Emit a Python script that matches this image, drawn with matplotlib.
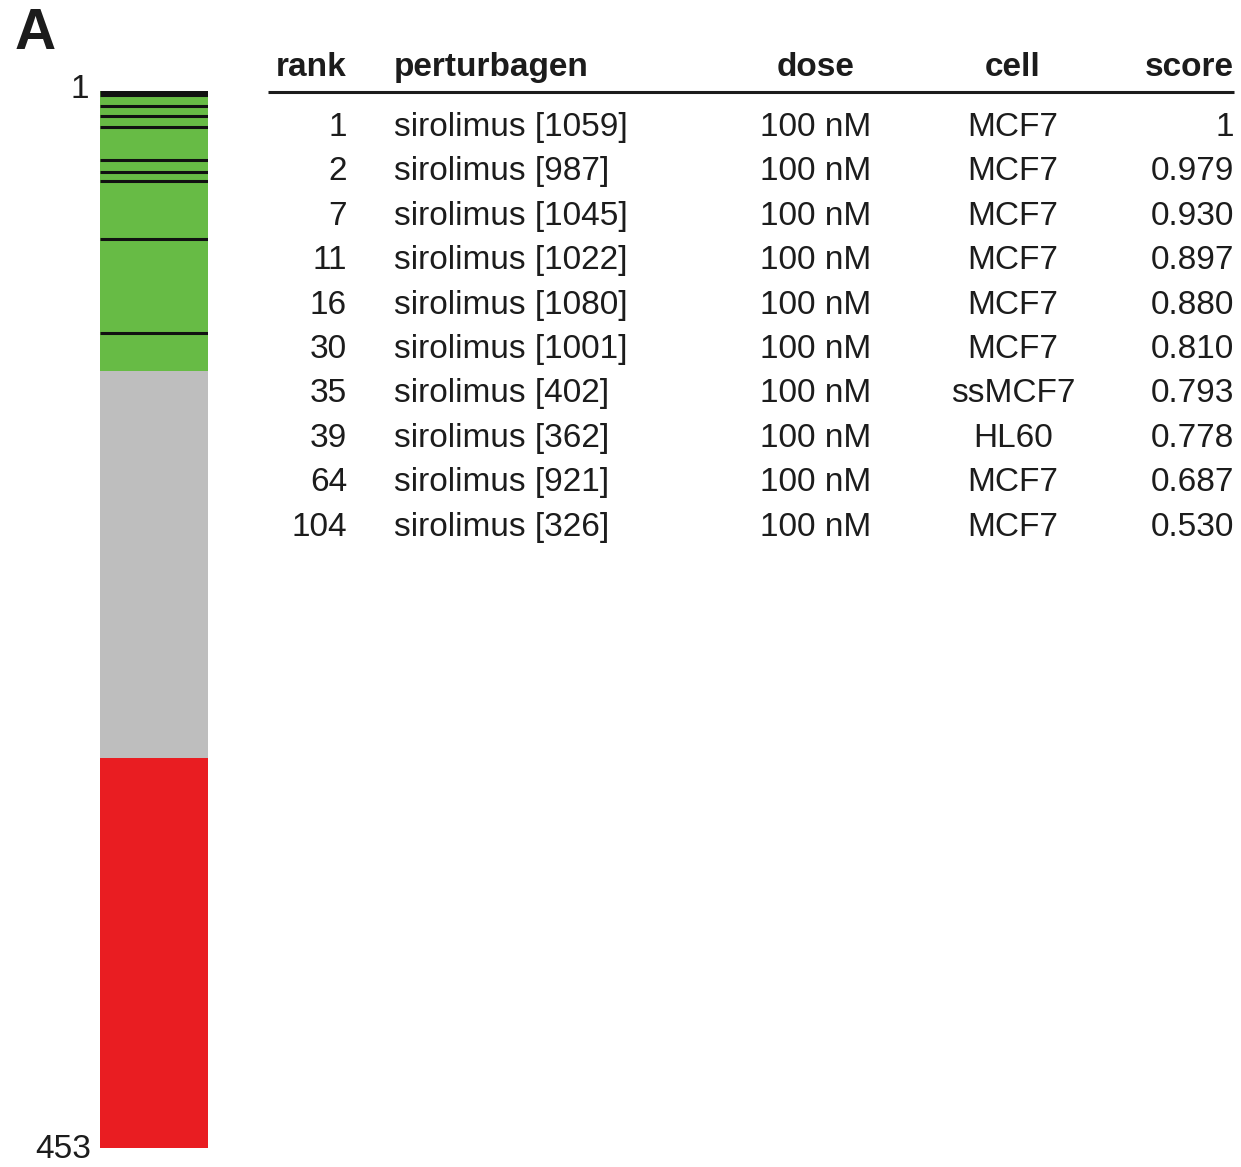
import matplotlib
matplotlib.use("Agg")
import matplotlib.pyplot as plt

plt.rcParams['font.family'] = ['Liberation Sans', 'DejaVu Sans']

# Connectivity ranks of sirolimus instances among all 453 instances
n_total = 453
ranks = [1, 2, 7, 11, 16, 30, 35, 39, 64, 104]
perturbagens = ["sirolimus [1059]", "sirolimus [987]", "sirolimus [1045]",
                "sirolimus [1022]", "sirolimus [1080]", "sirolimus [1001]",
                "sirolimus [402]", "sirolimus [362]", "sirolimus [921]",
                "sirolimus [326]"]
doses = ["100 nM"] * 10
cells = ["MCF7", "MCF7", "MCF7", "MCF7", "MCF7", "MCF7", "ssMCF7", "HL60",
         "MCF7", "MCF7"]
scores = ["1", "0.979", "0.930", "0.897", "0.880", "0.810", "0.793", "0.778",
          "0.687", "0.530"]
headers = ["rank", "perturbagen", "dose", "cell", "score"]

# Bar segments: positive / null / negative connectivity (rank boundaries)
seg_edges = [0, 120, 286, 453]
seg_colors = ["#67bb45", "#bebebe", "#e91d22"]

W, H = 1241, 1167
fig = plt.figure(figsize=(W / 100, H / 100), dpi=100)

def px_axes(x0, y0, x1, y1):
    return fig.add_axes([x0 / W, 1 - y1 / H, (x1 - x0) / W, (y1 - y0) / H])

# Rank bar
axb = px_axes(100, 91, 208, 1148)
for lo, hi, c in zip(seg_edges[:-1], seg_edges[1:], seg_colors):
    axb.bar(0.5, hi - lo, bottom=lo, width=1.0, color=c, linewidth=0)
axb.hlines([r - 0.5 for r in ranks], 0, 1, color="#111111", linewidth=2.2)
axb.set_xlim(0, 1)
axb.set_ylim(n_total, 0)
axb.axis("off")

# Overlay in pixel coordinates for labels and the table
ax = px_axes(0, 0, W, H)
ax.set_xlim(0, W)
ax.set_ylim(H, 0)
ax.axis("off")

txt = "#1c1c1c"
fs = 24
ax.text(15, 49, "A", fontsize=41, fontweight="bold", color=txt, va="baseline")
ax.text(89, 90, "1", fontsize=fs, ha="right", va="center", color=txt)
ax.text(91, 1149, str(n_total), fontsize=fs, ha="right", va="center", color=txt)

# Table columns: (x, alignment)
cols = [(347, "right"), (394, "left"), (816, "center"), (1013, "center"),
        (1234, "right")]
header_y = 76
for (x, ha), h in zip(cols, headers):
    ax.text(x, header_y, h, fontsize=fs, fontweight="bold", ha=ha,
            va="baseline", color=txt)
ax.plot([268, 1234], [92, 92], color=txt, linewidth=2.2,
        solid_capstyle="butt")

row0 = 136
step = 44.4
for i in range(len(ranks)):
    y = row0 + i * step
    vals = [str(ranks[i]), perturbagens[i], doses[i], cells[i], scores[i]]
    for (x, ha), v in zip(cols, vals):
        ax.text(x, y, v, fontsize=fs, ha=ha, va="baseline", color=txt)

fig.savefig("out.png", dpi=100, facecolor="white")
